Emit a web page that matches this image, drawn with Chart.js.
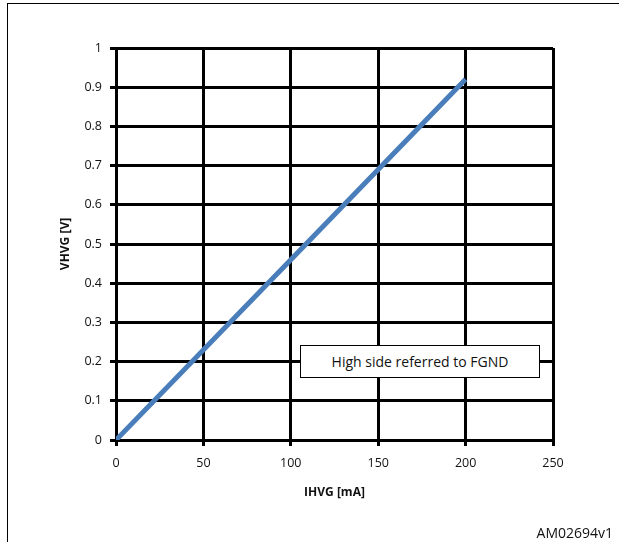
<!DOCTYPE html>
<html>
<head>
<meta charset="utf-8">
<script src="https://cdn.jsdelivr.net/npm/chart.js@4.4.1/dist/chart.umd.min.js"></script>
<style>
  html, body { margin: 0; padding: 0; background: #fff; }
  #wrap { position: relative; width: 619px; height: 542px; overflow: hidden; }
  #chart { position: absolute; left: 0; top: 0; }
  .frame-top { position: absolute; left: 7px; top: 3px; width: 612px; height: 1px; background: #000; }
  .frame-left { position: absolute; left: 7px; top: 3px; width: 1px; height: 539px; background: #000; }
  .note {
    position: absolute; left: 300px; top: 345px; width: 238px; height: 31px;
    border: 1.5px solid #000; background: #fff;
    font: 14px "Open Sans", sans-serif; color: #111;
    display: flex; align-items: center; justify-content: center;
  }
  .code { position: absolute; right: 6px; top: 523px; font: 14px "Open Sans", sans-serif; color: #111; }
</style>
</head>
<body>
<div id="wrap">
  <canvas id="chart" width="619" height="542"></canvas>
  <div class="frame-top"></div>
  <div class="frame-left"></div>
  <div class="note">High side referred to FGND</div>
  <div class="code">AM02694v1</div>
</div>
<script>
const currentMA = [0, 100, 200];
const voltageV = [0, 0.46, 0.92];
const xTicks = [0, 50, 100, 150, 200, 250];
const yTicks = [0, 0.1, 0.2, 0.3, 0.4, 0.5, 0.6, 0.7, 0.8, 0.9, 1];

const tickFont = { family: "'Open Sans', sans-serif", size: 12.5 };
const titleFont = { family: "'Open Sans', sans-serif", size: 12, weight: "bold" };

new Chart(document.getElementById("chart"), {
  type: "line",
  data: {
    datasets: [
      {
        data: currentMA.map((x, i) => ({ x, y: voltageV[i] })),
        borderColor: "#4a7ebb",
        borderWidth: 5,
        pointRadius: 0,
        tension: 0,
      },
    ],
  },
  options: {
    responsive: false,
    animation: false,
    layout: { padding: { left: 0, top: 48, right: 66, bottom: 0 } },
    plugins: { legend: { display: false }, tooltip: { enabled: false } },
    scales: {
      x: {
        type: "linear",
        min: xTicks[0],
        max: xTicks[xTicks.length - 1],
        afterFit: (scale) => { scale.height = 102; },
        afterBuildTicks: (scale) => { scale.ticks = xTicks.map((v) => ({ value: v })); },
        grid: { color: "#000", lineWidth: 3, tickLength: 6, tickColor: "#000" },
        border: { color: "#000", width: 3 },
        ticks: { font: tickFont, color: "#111", padding: 10, maxRotation: 0 },
        title: { display: true, text: "IHVG [mA]", font: titleFont, color: "#111", padding: { top: 0, bottom: 42 } },
      },
      y: {
        type: "linear",
        min: 0,
        max: 1,
        afterFit: (scale) => { scale.width = 116; },
        afterBuildTicks: (scale) => { scale.ticks = yTicks.map((v) => ({ value: v })); },
        grid: { color: "#000", lineWidth: 3, tickLength: 6, tickColor: "#000" },
        border: { color: "#000", width: 3 },
        ticks: {
          font: tickFont,
          color: "#111",
          padding: 8,
          callback: (v) => String(Math.round(v * 10) / 10),
        },
        title: { display: true, text: "VHVG [V]", font: titleFont, color: "#111", padding: { top: 58, bottom: 0 } },
      },
    },
  },
});
</script>
</body>
</html>
